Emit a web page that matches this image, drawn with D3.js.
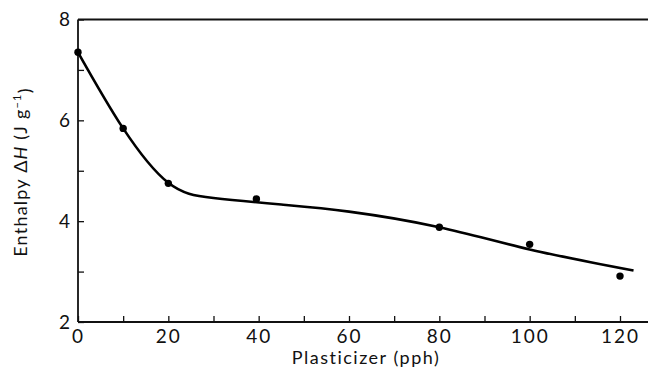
<!DOCTYPE html>
<html>
<head>
<meta charset="utf-8">
<script src="https://cdn.jsdelivr.net/npm/d3@7"></script>
<style>
  html, body { margin: 0; padding: 0; background: #fff; }
  svg { display: block; }
  text { font-family: Lato, "DejaVu Sans", sans-serif; fill: #111; }
</style>
</head>
<body>
<svg id="chart" width="648" height="371"></svg>
<script>
// Measured points (plasticizer pph, enthalpy J/g)
const pointX = [0, 10, 20, 39.5, 80, 100, 120];
const pointY = [7.35, 5.84, 4.75, 4.44, 3.88, 3.54, 2.91];

// Fitted curve drawn through the data
const curveX = [0, 10, 20, 30, 45, 60, 80, 100, 123];
const curveY = [7.35, 5.84, 4.76, 4.46, 4.33, 4.19, 3.88, 3.44, 3.02];

// Axis ticks
const xMajorTicks = [0, 20, 40, 60, 80, 100, 120];
const xMinorTicks = [10, 30, 50, 70, 90, 110];
const yMajorTicks = [2, 4, 6, 8];
const yMinorTicks = [3, 5, 7];

const xLabel = "Plasticizer (pph)";

const svg = d3.select("#chart");
const mLeft = 78, mRight = 648, mTop = 19.5, mBottom = 322;

const x = d3.scaleLinear().domain([0, 126.2]).range([mLeft, mRight]);
const y = d3.scaleLinear().domain([2, 8]).range([mBottom, mTop]);

const axisColor = "#111";

// Frame: top line (no right line)
svg.append("line").attr("x1", mLeft).attr("x2", mRight).attr("y1", mTop).attr("y2", mTop)
  .attr("stroke", axisColor).attr("stroke-width", 1.8);

// x axis (ticks pointing inward/up)
const xAxis = d3.axisBottom(x).tickValues(xMajorTicks.concat(xMinorTicks))
  .tickSize(-6).tickPadding(8)
  .tickFormat(d => xMajorTicks.includes(d) ? d3.format("d")(d) : "");
const gx = svg.append("g").attr("transform", `translate(0,${mBottom})`).call(xAxis);
gx.select(".domain").attr("d", `M${mLeft},0H${mRight}`).attr("stroke", axisColor).attr("stroke-width", 1.8);
gx.selectAll(".tick line").attr("stroke", axisColor).attr("stroke-width", 1.3);
gx.selectAll(".tick text").attr("font-size", 19).attr("letter-spacing", 2)
  .attr("font-family", "Lato, sans-serif").attr("fill", "#111");

// y axis (ticks pointing inward/right)
const yAxis = d3.axisLeft(y).tickValues(yMajorTicks.concat(yMinorTicks))
  .tickSize(-6).tickPadding(8)
  .tickFormat(d => yMajorTicks.includes(d) ? d3.format("d")(d) : "");
const gy = svg.append("g").attr("transform", `translate(${mLeft},0)`).call(yAxis);
gy.select(".domain").attr("d", `M0,${mTop}V${mBottom}`).attr("stroke", axisColor).attr("stroke-width", 1.8);
gy.selectAll(".tick line").attr("stroke", axisColor).attr("stroke-width", 1.3);
gy.selectAll(".tick text").attr("font-size", 19)
  .attr("font-family", "Lato, sans-serif").attr("fill", "#111");

// Curve
const curveData = curveX.map((d, i) => [d, curveY[i]]);
const line = d3.line().x(d => x(d[0])).y(d => y(d[1])).curve(d3.curveNatural);
svg.append("path").datum(curveData).attr("d", line)
  .attr("fill", "none").attr("stroke", "#000").attr("stroke-width", 2.6);

// Points
const pts = pointX.map((d, i) => [d, pointY[i]]);
svg.selectAll("circle.pt").data(pts).enter().append("circle")
  .attr("class", "pt")
  .attr("cx", d => x(d[0])).attr("cy", d => y(d[1])).attr("r", 3.7)
  .attr("fill", "#000");

// Axis titles
svg.append("text").attr("x", 366).attr("y", 364)
  .attr("text-anchor", "middle").attr("font-size", 18).attr("letter-spacing", 1.5).text(xLabel);

const yt = svg.append("text").attr("transform", `translate(27,172) rotate(-90)`)
  .attr("text-anchor", "middle").attr("font-size", 18).attr("letter-spacing", 1.2);
yt.append("tspan").text("Enthalpy \u0394");
yt.append("tspan").attr("font-style", "italic").text("H");
yt.append("tspan").text(" (J g");
yt.append("tspan").attr("dy", "-0.55em").attr("font-size", 11).text("\u22121");
yt.append("tspan").attr("dy", "0.55em").text(")");
</script>
</body>
</html>
